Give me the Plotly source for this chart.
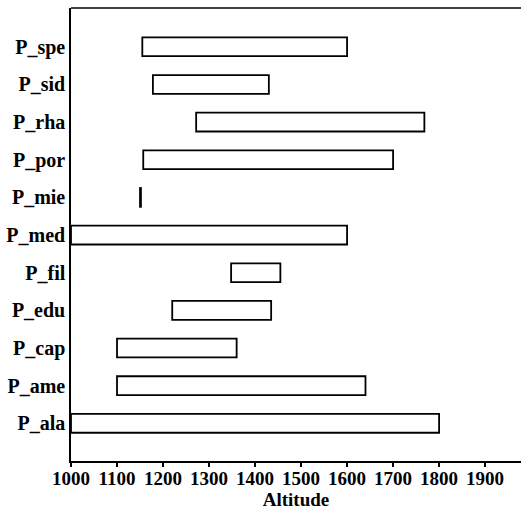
import plotly.graph_objects as go

species = ["P_ala", "P_ame", "P_cap", "P_edu", "P_fil", "P_med",
           "P_mie", "P_por", "P_rha", "P_sid", "P_spe"]
alt_min = [1000, 1100, 1100, 1220, 1348, 1000, 1150, 1157, 1272, 1178, 1155]
alt_max = [1800, 1640, 1360, 1435, 1455, 1600, 1152, 1700, 1768, 1430, 1600]
x_ticks = [1000, 1100, 1200, 1300, 1400, 1500, 1600, 1700, 1800, 1900]

span = [b - a for a, b in zip(alt_min, alt_max)]

serif = "Times New Roman, Liberation Serif, serif"

fig = go.Figure(go.Bar(
    y=species, x=span, base=alt_min, orientation="h", width=0.5,
    marker=dict(color="white", line=dict(color="black", width=1.8)),
))

fig.update_layout(
    width=521, height=513,
    margin=dict(l=71, r=0, t=8, b=52),
    plot_bgcolor="white", paper_bgcolor="white",
    showlegend=False,
    font=dict(family=serif, color="black", size=20),
    xaxis=dict(range=[1000, 1978], tickvals=x_ticks,
               ticktext=[f"<b>{v}</b>" for v in x_ticks],
               automargin=False,
               showgrid=False, zeroline=False, showline=True,
               linecolor="black", linewidth=1.5, ticks="outside",
               ticklen=4, tickwidth=1.5, tickcolor="black",
               ticklabelstandoff=-5,
               tickfont=dict(family=serif, size=19, color="black"),
               title=dict(text="<b>Altitude</b>", standoff=0,
                          font=dict(family=serif, size=19, color="black"))),
    yaxis=dict(range=[-1, 11.03], showgrid=False, zeroline=False,
               automargin=False,
               showline=True, linecolor="black", linewidth=1.5,
               tickmode="array", tickvals=species,
               ticktext=[f"<b>{s}</b>" for s in species],
               ticks="", ticklabelstandoff=0,
               tickfont=dict(family=serif, size=20, color="black")),
    shapes=[dict(type="line", xref="paper", yref="paper", x0=0, x1=1, y0=1, y1=1,
                 line=dict(color="black", width=1.5))],
)

fig.write_html("out.html", config={"displayModeBar": False},
               post_script="document.body.style.margin='0px';document.body.style.overflow='hidden';")
